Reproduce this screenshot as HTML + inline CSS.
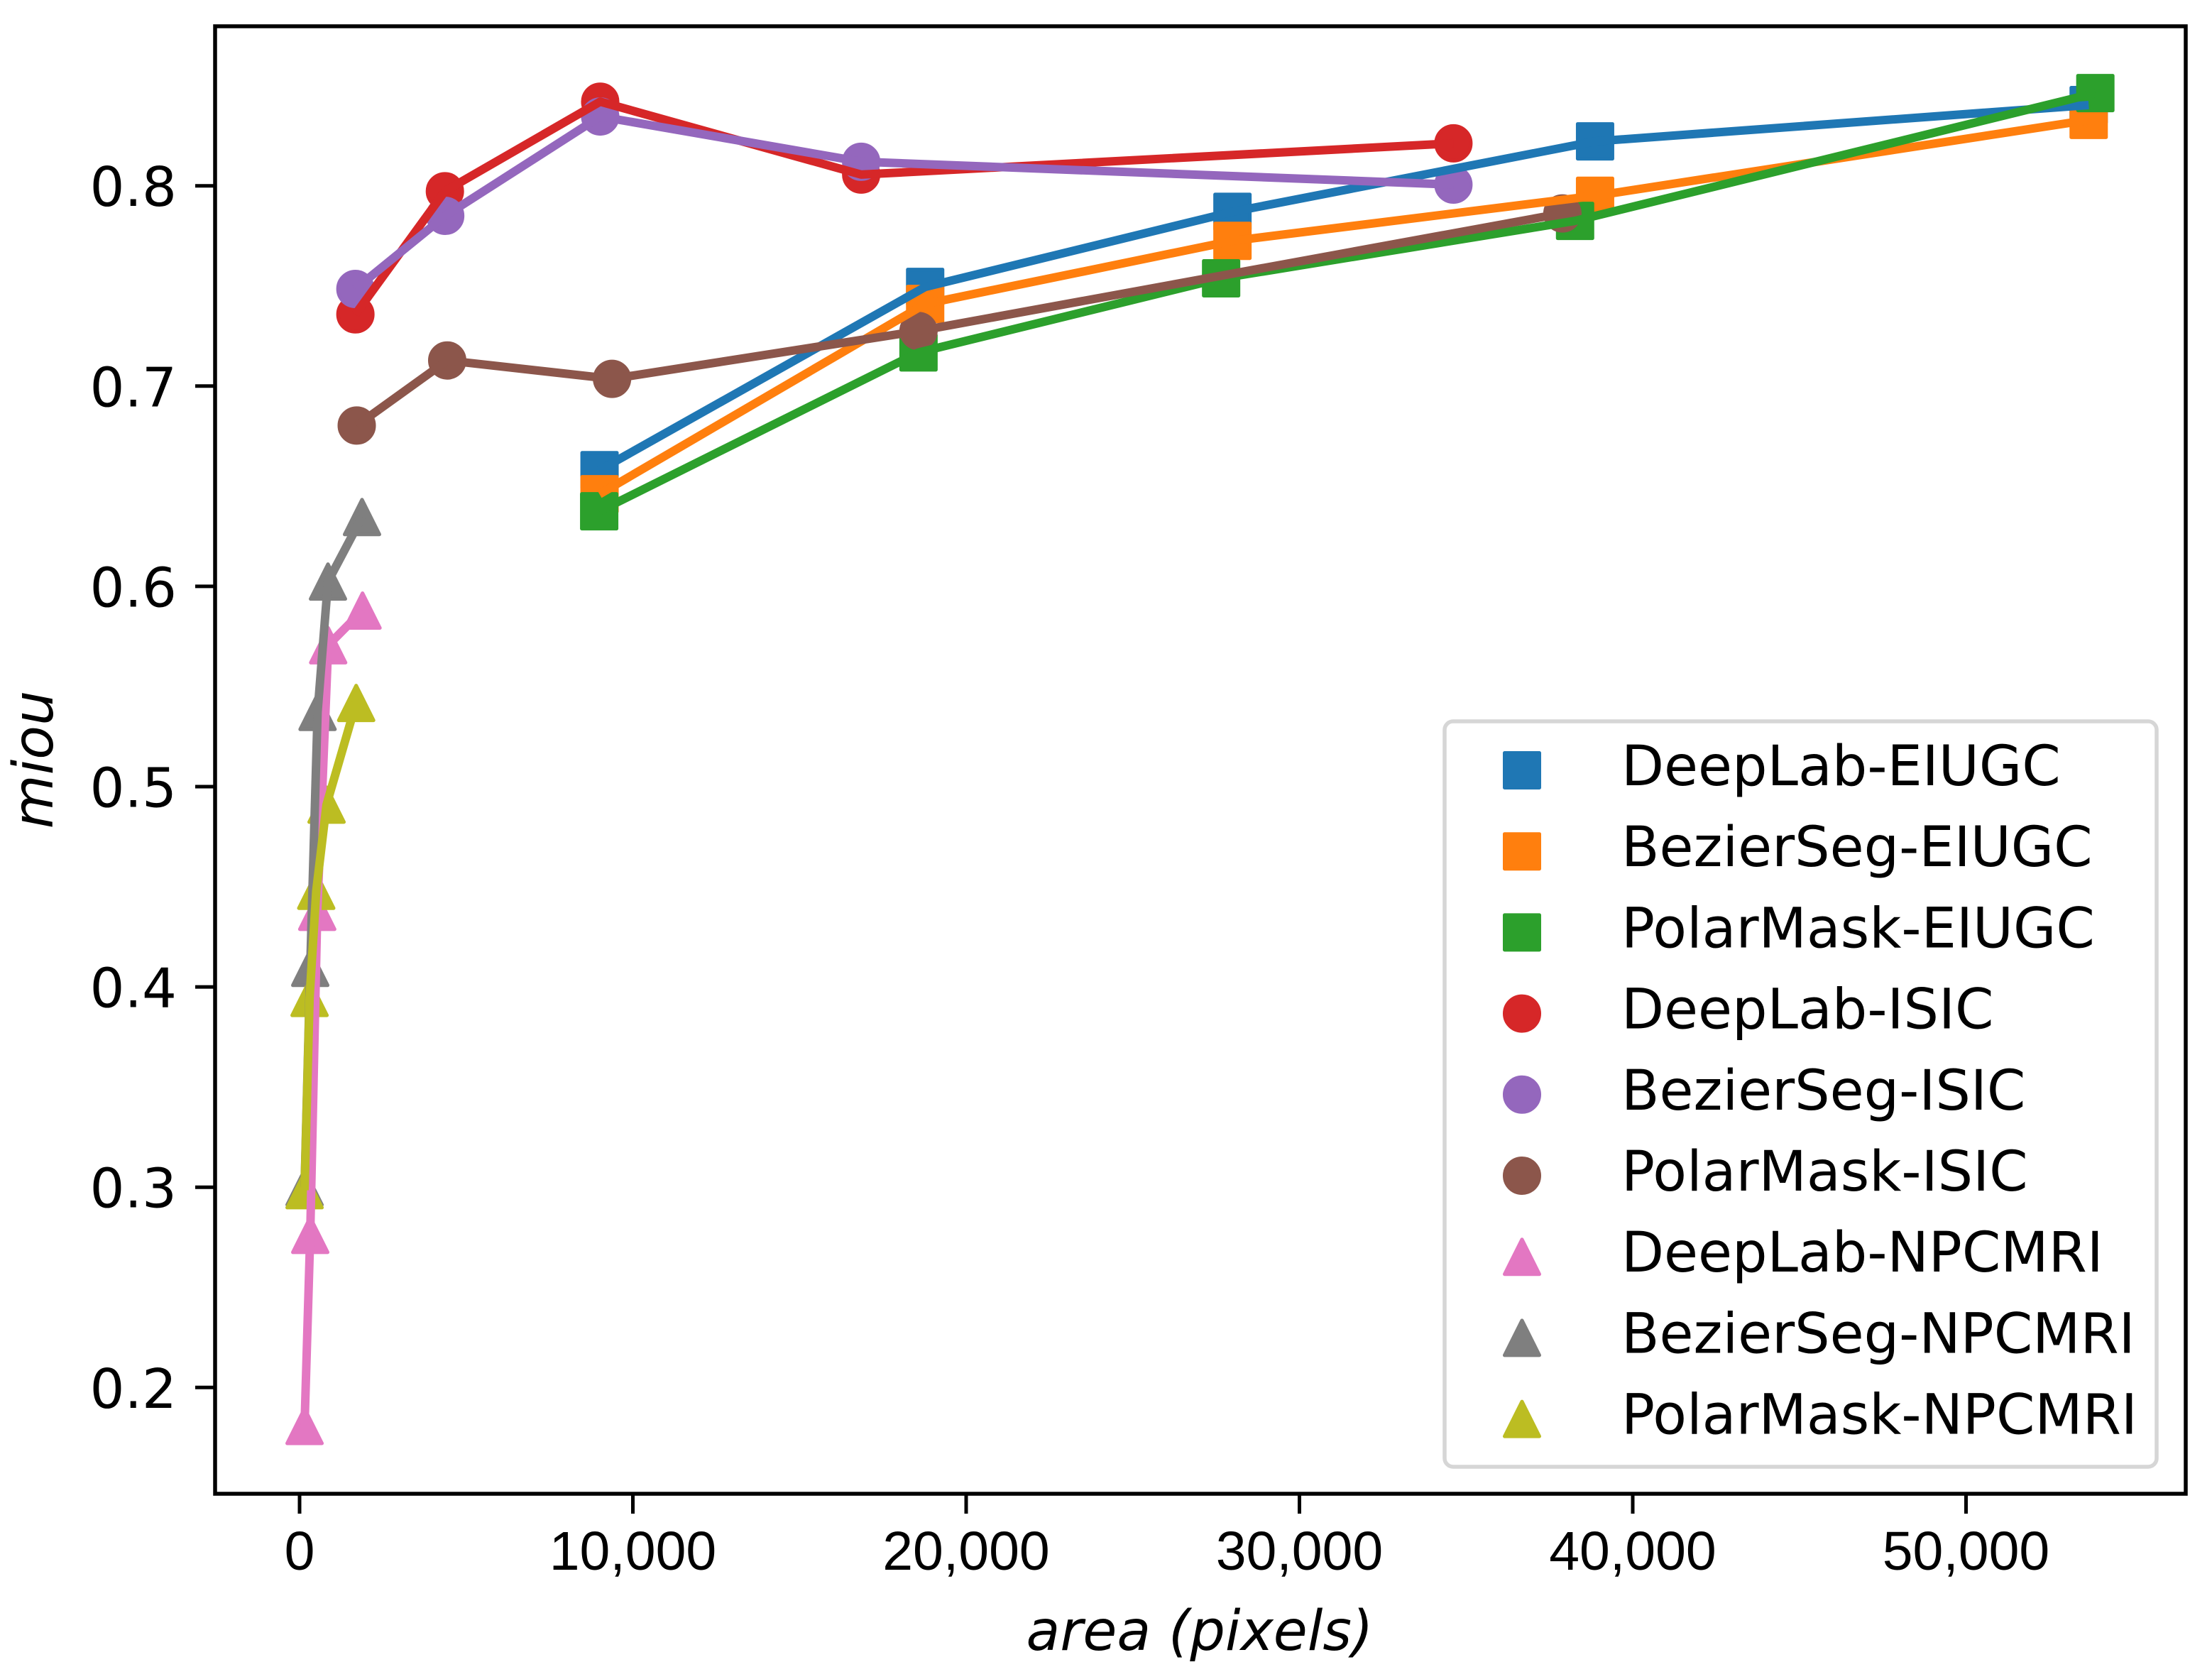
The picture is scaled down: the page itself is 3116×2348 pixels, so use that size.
<!DOCTYPE html>
<html lang="en">
<head>
<meta charset="utf-8">
<title>miou vs area chart</title>
<style>
  html, body { margin: 0; padding: 0; background: #ffffff; }
  body { width: 3116px; height: 2348px; overflow: hidden; }
  svg { display: block; }
  .tick-y { font-family: "DejaVu Sans", "Liberation Sans", sans-serif; font-size: 77px; fill: #000; }
  .tick-x { font-family: "Liberation Sans", sans-serif; font-size: 77px; fill: #000; }
  .axis-title { font-family: "DejaVu Sans", sans-serif; font-style: italic; font-size: 78px; fill: #000; }
  .legend-text { font-family: "DejaVu Sans", sans-serif; font-size: 78px; fill: #000; }
</style>
</head>
<body>
<svg id="chart" xmlns="http://www.w3.org/2000/svg" width="3116" height="2348" viewBox="0 0 3116 2348">
  <rect x="0" y="0" width="3116" height="2348" fill="#ffffff"/>
  <g id="markers"></g>
  <g id="lines"></g>
  <g id="axes"></g>
  <g id="legend"></g>
  <text class="axis-title" x="1690" y="2324" text-anchor="middle">area (pixels)</text>
  <text class="axis-title" transform="translate(74 1070) rotate(-90)" text-anchor="middle">miou</text>
</svg>
<script>
// ---- chart data ----
const xTickValues = [0, 10000, 20000, 30000, 40000, 50000];
const xTickLabels = ['0', '10,000', '20,000', '30,000', '40,000', '50,000'];
const yTickValues = [0.2, 0.3, 0.4, 0.5, 0.6, 0.7, 0.8];
const yTickLabels = ['0.2', '0.3', '0.4', '0.5', '0.6', '0.7', '0.8'];

const seriesNames = ['DeepLab-EIUGC', 'BezierSeg-EIUGC', 'PolarMask-EIUGC', 'DeepLab-ISIC', 'BezierSeg-ISIC', 'PolarMask-ISIC', 'DeepLab-NPCMRI', 'BezierSeg-NPCMRI', 'PolarMask-NPCMRI'];
const seriesColors = ['#1f77b4', '#ff7f0e', '#2ca02c', '#d62728', '#9467bd', '#8c564b', '#e377c2', '#7f7f7f', '#bcbd22'];
const seriesShapes = ['square', 'square', 'square', 'circle', 'circle', 'circle', 'triangle', 'triangle', 'triangle'];

const deeplabEiugcArea = [9000, 18770, 27990, 38870, 53680];
const deeplabEiugcMiou = [0.658, 0.7495, 0.787, 0.8222, 0.8403];
const bezierEiugcArea = [9000, 18770, 27990, 38870, 53680];
const bezierEiugcMiou = [0.646, 0.741, 0.7725, 0.795, 0.8329];
const polarEiugcArea = [8990, 18570, 27650, 38270, 53880];
const polarEiugcMiou = [0.6375, 0.7168, 0.7538, 0.7825, 0.8463];

const deeplabIsicArea = [1675, 4360, 9020, 16850, 34620];
const deeplabIsicMiou = [0.7358, 0.7973, 0.842, 0.8056, 0.8212];
const bezierIsicArea = [1675, 4370, 9020, 16850, 34620];
const bezierIsicMiou = [0.7485, 0.785, 0.8346, 0.812, 0.8006];
const polarIsicArea = [1715, 4430, 9375, 18570, 37890];
const polarIsicMiou = [0.6803, 0.7128, 0.7036, 0.7275, 0.7862];

const deeplabNpcmriArea = [150, 320, 530, 858, 1889];
const deeplabNpcmriMiou = [0.1808, 0.2762, 0.4375, 0.5706, 0.5879];
const bezierNpcmriArea = [150, 320, 540, 852, 1874];
const bezierNpcmriMiou = [0.2999, 0.4095, 0.5373, 0.6024, 0.6346];
const polarNpcmriArea = [150, 300, 500, 810, 1698];
const polarNpcmriMiou = [0.2985, 0.3945, 0.448, 0.491, 0.5418];

const allAreas = [deeplabEiugcArea, bezierEiugcArea, polarEiugcArea, deeplabIsicArea, bezierIsicArea, polarIsicArea, deeplabNpcmriArea, bezierNpcmriArea, polarNpcmriArea];
const allMious = [deeplabEiugcMiou, bezierEiugcMiou, polarEiugcMiou, deeplabIsicMiou, bezierIsicMiou, polarIsicMiou, deeplabNpcmriMiou, bezierNpcmriMiou, polarNpcmriMiou];

// ---- axis functions ----
const NS = 'http://www.w3.org/2000/svg';
function xScale(v) { return 422 + 0.04695 * v; }
function yScale(v) { return 261.7 + (0.8 - v) * 2821; }

function make(parent, tag, attrs) {
  const el = document.createElementNS(NS, tag);
  for (const k in attrs) el.setAttribute(k, attrs[k]);
  parent.appendChild(el);
  return el;
}

function drawMarker(parent, shape, cx, cy, color) {
  const half = 24.5;
  let el;
  if (shape === 'square') {
    el = make(parent, 'rect', { x: cx - half, y: cy - half, width: 2 * half, height: 2 * half });
  } else if (shape === 'circle') {
    el = make(parent, 'circle', { cx: cx, cy: cy, r: half });
  } else {
    el = make(parent, 'polygon', { points: (cx - half) + ',' + (cy + half) + ' ' + (cx + half) + ',' + (cy + half) + ' ' + cx + ',' + (cy - half) });
  }
  el.setAttribute('fill', color);
  el.setAttribute('stroke', color);
  el.setAttribute('stroke-width', '5');
  el.setAttribute('stroke-linejoin', 'round');
  return el;
}

// ---- markers first, lines above them ----
const markerLayer = document.getElementById('markers');
const lineLayer = document.getElementById('lines');

seriesNames.forEach(function (name, s) {
  allAreas[s].forEach(function (area, i) {
    const m = drawMarker(markerLayer, seriesShapes[s], xScale(area), yScale(allMious[s][i]), seriesColors[s]);
    
    
  });
});

seriesNames.forEach(function (name, s) {
  const pts = allAreas[s].map(function (area, i) { return xScale(area).toFixed(1) + ',' + yScale(allMious[s][i]).toFixed(1); }).join(' ');
  const l = make(lineLayer, 'polyline', { points: pts, fill: 'none', stroke: seriesColors[s], 'stroke-width': '12', 'stroke-linejoin': 'round', 'stroke-linecap': 'butt' });
  
  
});

// ---- axes ----
const axes = document.getElementById('axes');
const frame = make(axes, 'rect', { x: 303, y: 37, width: 2776, height: 2067, fill: 'none', stroke: '#000', 'stroke-width': '5.5' });



xTickValues.forEach(function (v, i) {
  const x = xScale(v);
  const t = make(axes, 'line', { x1: x, x2: x, y1: 2104, y2: 2132, stroke: '#000', 'stroke-width': '5' });
  
  
  const lab = make(axes, 'text', { x: x, y: 2211, 'text-anchor': 'middle', class: 'tick-x' });
  lab.textContent = xTickLabels[i];
  
  
});

yTickValues.forEach(function (v, i) {
  const y = yScale(v);
  const t = make(axes, 'line', { x1: 275, x2: 303, y1: y, y2: y, stroke: '#000', 'stroke-width': '5' });
  
  
  const lab = make(axes, 'text', { x: 249, y: y + 28.5, 'text-anchor': 'end', class: 'tick-y' });
  lab.textContent = yTickLabels[i];
  
  
});

// ---- legend ----
const legend = document.getElementById('legend');
const box = make(legend, 'rect', { x: 2035, y: 1016, width: 1003, height: 1050, rx: 12, ry: 12, fill: '#ffffff', 'fill-opacity': '0.8', stroke: '#d6d6d6', 'stroke-width': '5.5' });



seriesNames.forEach(function (name, s) {
  const rowY = 1085 + s * 114.2;
  const g = make(legend, 'g', {});
  
  
  const mk = drawMarker(g, seriesShapes[s], 2144, rowY, seriesColors[s]);
  
  
  const tx = make(g, 'text', { x: 2284, y: rowY + 21, class: 'legend-text' });
  tx.textContent = name;
  
  
});
</script>
</body>
</html>
